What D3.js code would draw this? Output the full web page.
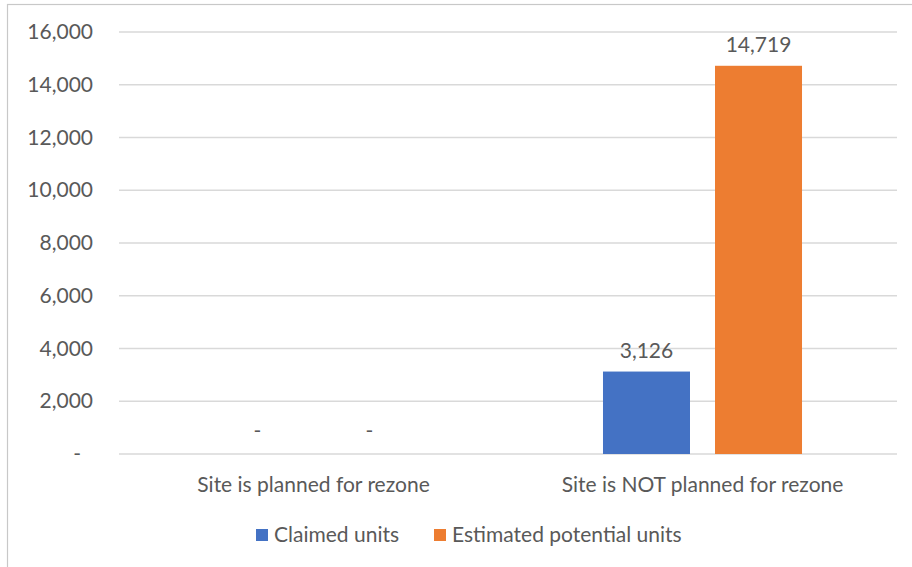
<!DOCTYPE html>
<html>
<head>
<meta charset="utf-8">
<script src="https://cdn.jsdelivr.net/npm/d3@7"></script>
<style>
  html, body { margin: 0; padding: 0; background: #fff; }
  svg { display: block; }
  text { font-family: Lato, "Open Sans", sans-serif; fill: #595959; }
</style>
</head>
<body>
<svg id="chart" width="912" height="567"></svg>
<script>
// Units by rezone plan status
const categories = ["Site is planned for rezone", "Site is NOT planned for rezone"];
const seriesNames = ["Claimed units", "Estimated potential units"];
const claimedUnits = [0, 3126];
const estimatedUnits = [0, 14719];
const yTicks = [0, 2000, 4000, 6000, 8000, 10000, 12000, 14000, 16000];
const seriesColors = ["#4472C4", "#ED7D31"];

const seriesValues = [claimedUnits, estimatedUnits];

const svg = d3.select("#chart");
const W = 912, H = 567;
const margin = { left: 119, right: 15, top: 32, bottom: 113 };
const FS = "21px";

// chart frame
svg.append("rect")
  .attr("x", 7.5).attr("y", 4.5)
  .attr("width", W).attr("height", H)
  .attr("fill", "none").attr("stroke", "#c8c8c8").attr("stroke-width", 1.2);

const x0 = d3.scaleBand().domain(categories).range([margin.left, W - margin.right]).padding(0);
const x1 = d3.scaleBand().domain(seriesNames).range([0, x0.bandwidth()])
  .paddingInner(0.2232).paddingOuter(0.848);
const y = d3.scaleLinear().domain([0, 16000]).range([H - margin.bottom, margin.top]);

const fmt = d3.format(",");

// gridlines
svg.append("g").selectAll("line").data(yTicks).join("line")
  .attr("x1", margin.left).attr("x2", W - margin.right)
  .attr("y1", d => y(d)).attr("y2", d => y(d))
  .attr("stroke", "#d9d9d9").attr("stroke-width", 1.5);

// y axis labels
const yAxis = d3.axisLeft(y).tickValues(yTicks)
  .tickFormat(d => d === 0 ? "-" : fmt(d)).tickSize(0).tickPadding(26);
const yg = svg.append("g").attr("transform", `translate(${margin.left},0)`).call(yAxis);
yg.select(".domain").remove();
yg.selectAll("text").style("font-size", FS).attr("fill", "#595959")
  .attr("font-family", "Lato, sans-serif");
yg.selectAll(".tick").filter(d => d === 0).select("text").attr("dx", -12);

// bars
const groups = svg.append("g").selectAll("g").data(categories).join("g")
  .attr("transform", d => `translate(${x0(d)},0)`);

groups.each(function(cat, ci) {
  const g = d3.select(this);
  seriesNames.forEach((s, si) => {
    const v = seriesValues[si][ci];
    g.append("rect")
      .attr("x", x1(s)).attr("width", x1.bandwidth())
      .attr("y", y(v)).attr("height", y(0) - y(v))
      .attr("fill", seriesColors[si]);
    g.append("text")
      .attr("x", x1(s) + x1.bandwidth() / 2)
      .attr("y", v === 0 ? y(0) - 16 : y(v) - 14)
      .attr("text-anchor", "middle")
      .style("font-size", FS)
      .text(v === 0 ? "-" : fmt(v));
  });
});

// category labels
const xAxis = d3.axisBottom(x0).tickSize(0).tickPadding(23);
const xg = svg.append("g").attr("transform", `translate(0,${y(0)})`).call(xAxis);
xg.select(".domain").remove();
xg.selectAll("text").style("font-size", FS).attr("fill", "#595959")
  .attr("font-family", "Lato, sans-serif");

// legend
const legendItems = [
  { name: seriesNames[0], color: seriesColors[0], x: 256 },
  { name: seriesNames[1], color: seriesColors[1], x: 434 }
];
const lg = svg.append("g");
legendItems.forEach(it => {
  lg.append("rect").attr("x", it.x).attr("y", 529).attr("width", 12).attr("height", 12)
    .attr("fill", it.color);
  lg.append("text").attr("x", it.x + 18).attr("y", 542)
    .style("font-size", FS).text(it.name);
});
</script>
</body>
</html>
